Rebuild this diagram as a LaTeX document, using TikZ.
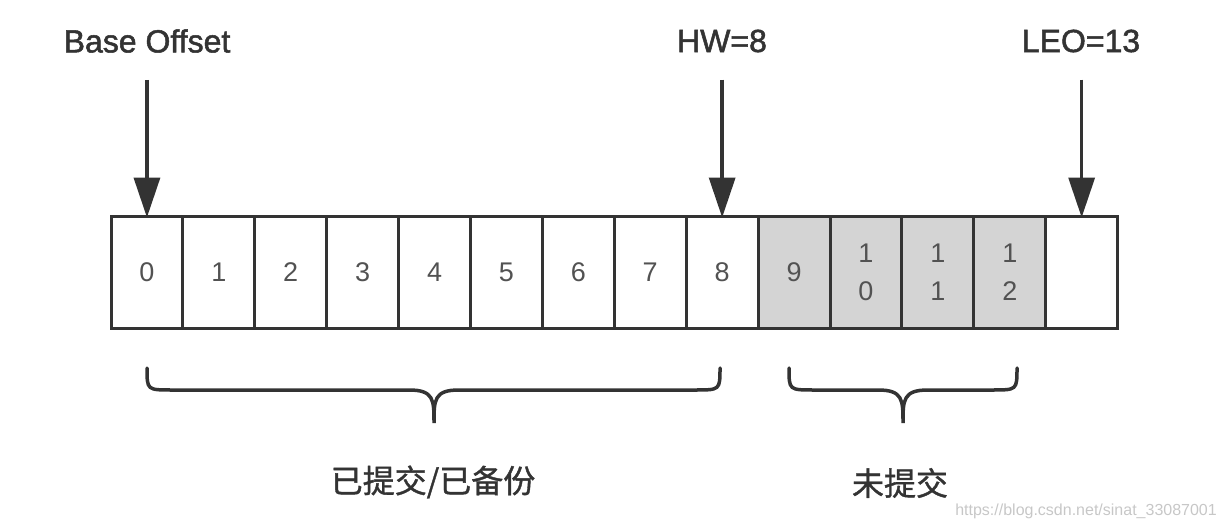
\documentclass[tikz,border=0pt]{standalone}
\usepackage{fontspec}
\setmainfont{Liberation Sans}
\newfontfamily\semib{Liberation Sans}[FakeBold=1.6]
\newfontfamily\cjk{Noto Sans CJK SC}[FakeBold=1.2]
\usetikzlibrary{arrows.meta}
\definecolor{ink}{HTML}{333333}
\definecolor{pend}{HTML}{D4D4D4}
\begin{document}
\begin{tikzpicture}[x=1pt,y=-1pt,
 cell/.style={draw=ink, line width=3pt, minimum width=71.9pt, minimum height=112pt, inner sep=0pt, font=\fontsize{27}{38}\selectfont, text=ink!85, align=center, fill=white},
 grey/.style={fill=pend},
 arr/.style={draw=ink, line width=3.5pt, -{Triangle[length=40pt,width=26pt]}},
 bracepath/.style={draw=ink, line width=3.5pt, line cap=round},
 toplabel/.style={font=\semib\fontsize{32}{36}\selectfont, text=ink, inner sep=0pt},
 cnlabel/.style={font=\cjk\fontsize{32}{36}\selectfont, text=ink, inner sep=0pt},
 wmark/.style={font=\fontsize{16}{18}\selectfont, text=black!22, inner sep=0pt}
 ]
\useasboundingbox (0,0) rectangle (1227,527);
\foreach \i in {0,...,8}{
  \node[cell] (c\i) at ({111+71.9*(\i+0.5)},272) {\i};
}
\node[cell,grey] (c9) at ({111+71.9*9.5},272) {9};
\node[cell,grey] (c10) at ({111+71.9*10.5},272) {1\\0};
\node[cell,grey] (c11) at ({111+71.9*11.5},272) {1\\1};
\node[cell,grey] (c12) at ({111+71.9*12.5},272) {1\\2};
\node[cell] (c13) at ({111+71.9*13.5},272) {};

\node[toplabel] (bo) at (147,41) {Base Offset};
\node[toplabel] (hw) at (722,41) {HW=8};
\node[toplabel] (leo) at (1081,41) {LEO=13};

\draw[arr] (bo.south -| c0.north) ++(0,27) coordinate (b0) -- ([yshift=-3pt]c0.north);
\draw[arr] (hw.south -| c8.north) ++(0,27) coordinate (b8) -- ([yshift=-3pt]c8.north);
\draw[arr] (leo.south -| c13.north) ++(0,27) coordinate (b13) -- ([yshift=-3pt]c13.north);

% braces
\draw[bracepath] (147,368) .. controls (147,390) .. (172,390) -- (409,390)
  .. controls (434,390) and (434,400) .. (434,423)
  .. controls (434,400) and (434,390) .. (459,390) -- (695,390)
  .. controls (720,390) .. (720,368);
\draw[bracepath] (789,368) .. controls (789,390) .. (814,390) -- (878,390)
  .. controls (903,390) and (903,400) .. (903,423)
  .. controls (903,400) and (903,390) .. (928,390) -- (992,390)
  .. controls (1017,390) .. (1017,368);

\node[cnlabel] (l1) at (433,482) {已提交/已备份};
\node[cnlabel] (l2) at (900,483) {未提交};
\node[wmark, anchor=east] (wm) at (1217,511) {https://blog.csdn.net/sinat\_33087001};
\end{tikzpicture}
\end{document}
